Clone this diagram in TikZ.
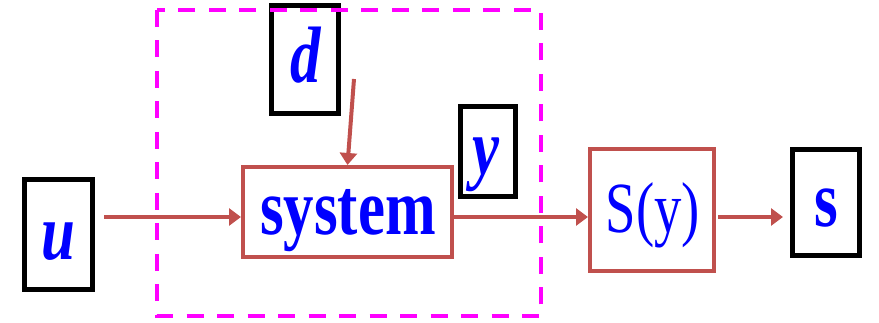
\documentclass[tikz,border=0pt]{standalone}
\usepackage{fontspec}
\setmainfont{Liberation Serif}
\newfontfamily\narrowserif[FakeStretch=0.76]{Liberation Serif}
\usetikzlibrary{arrows.meta}
\definecolor{boxred}{RGB}{192,80,77}
\definecolor{txtblue}{RGB}{0,0,255}
\definecolor{dashmag}{RGB}{255,0,255}
\tikzset{
  blackbox/.style={draw=black, line width=5pt, inner sep=0pt, fill=white},
  redbox/.style={draw=boxred, line width=4pt, inner sep=0pt, fill=white},
  lbl/.style={anchor=base, inner sep=0pt, text=txtblue, font=\narrowserif\fontsize{80}{80}\selectfont},
  arr/.style={draw=boxred, line width=4pt, -{Triangle[length=12pt,width=17pt]}},
  dashframe/.style={draw=dashmag, line width=4.5pt, dash pattern=on 17pt off 13.5pt}
}
\begin{document}
\begin{tikzpicture}[x=1pt,y=-1pt]
\useasboundingbox (0,0) rectangle (879,323);
% boxes
\node[blackbox, minimum width=68pt, minimum height=110pt] (ubox) at (58.5,234.5) {};
\node[blackbox, minimum width=67pt, minimum height=108pt] (dbox) at (305,59.5) {};
\node[blackbox, minimum width=55pt, minimum height=90pt] (ybox) at (488,151.5) {};
\node[blackbox, minimum width=67pt, minimum height=106pt] (sbox) at (826,202.5) {};
\node[redbox, minimum width=209pt, minimum height=90pt] (sys) at (347.5,212) {};
\node[redbox, minimum width=124pt, minimum height=122pt] (Sy) at (652,210) {};
% labels
\node[lbl] (tu) at (58,260) {\textbf{\textit{u}}};
\node[lbl] (td) at (306,83) {\textbf{\textit{d}}};
\node[lbl] (ty) at (486,175) {\textbf{\textit{y}}};
\node[lbl] (ts) at (826,227) {\textbf{s}};
\node[lbl] (tsys) at (348,235) {\textbf{system}};
\node[lbl, font=\narrowserif\fontsize{72}{72}\selectfont] (tSy) at (653,233) {S(y)};
% connectors
\coordinate (ay) at (0,217);
\coordinate (dstart) at (354,79);
\draw[arr] ([xshift=9pt]ubox.east |- ay) -- (sys.west |- ay);
\draw[arr] (dstart) -- (sys.north);
\draw[arr] (sys.east |- ay) -- (Sy.west |- ay);
\draw[arr] ([xshift=2pt]Sy.east |- ay) -- ([xshift=-7pt]sbox.west |- ay);
% dashed frame
\draw[dashframe] (157,10) rectangle (541,316);
\end{tikzpicture}
\end{document}
